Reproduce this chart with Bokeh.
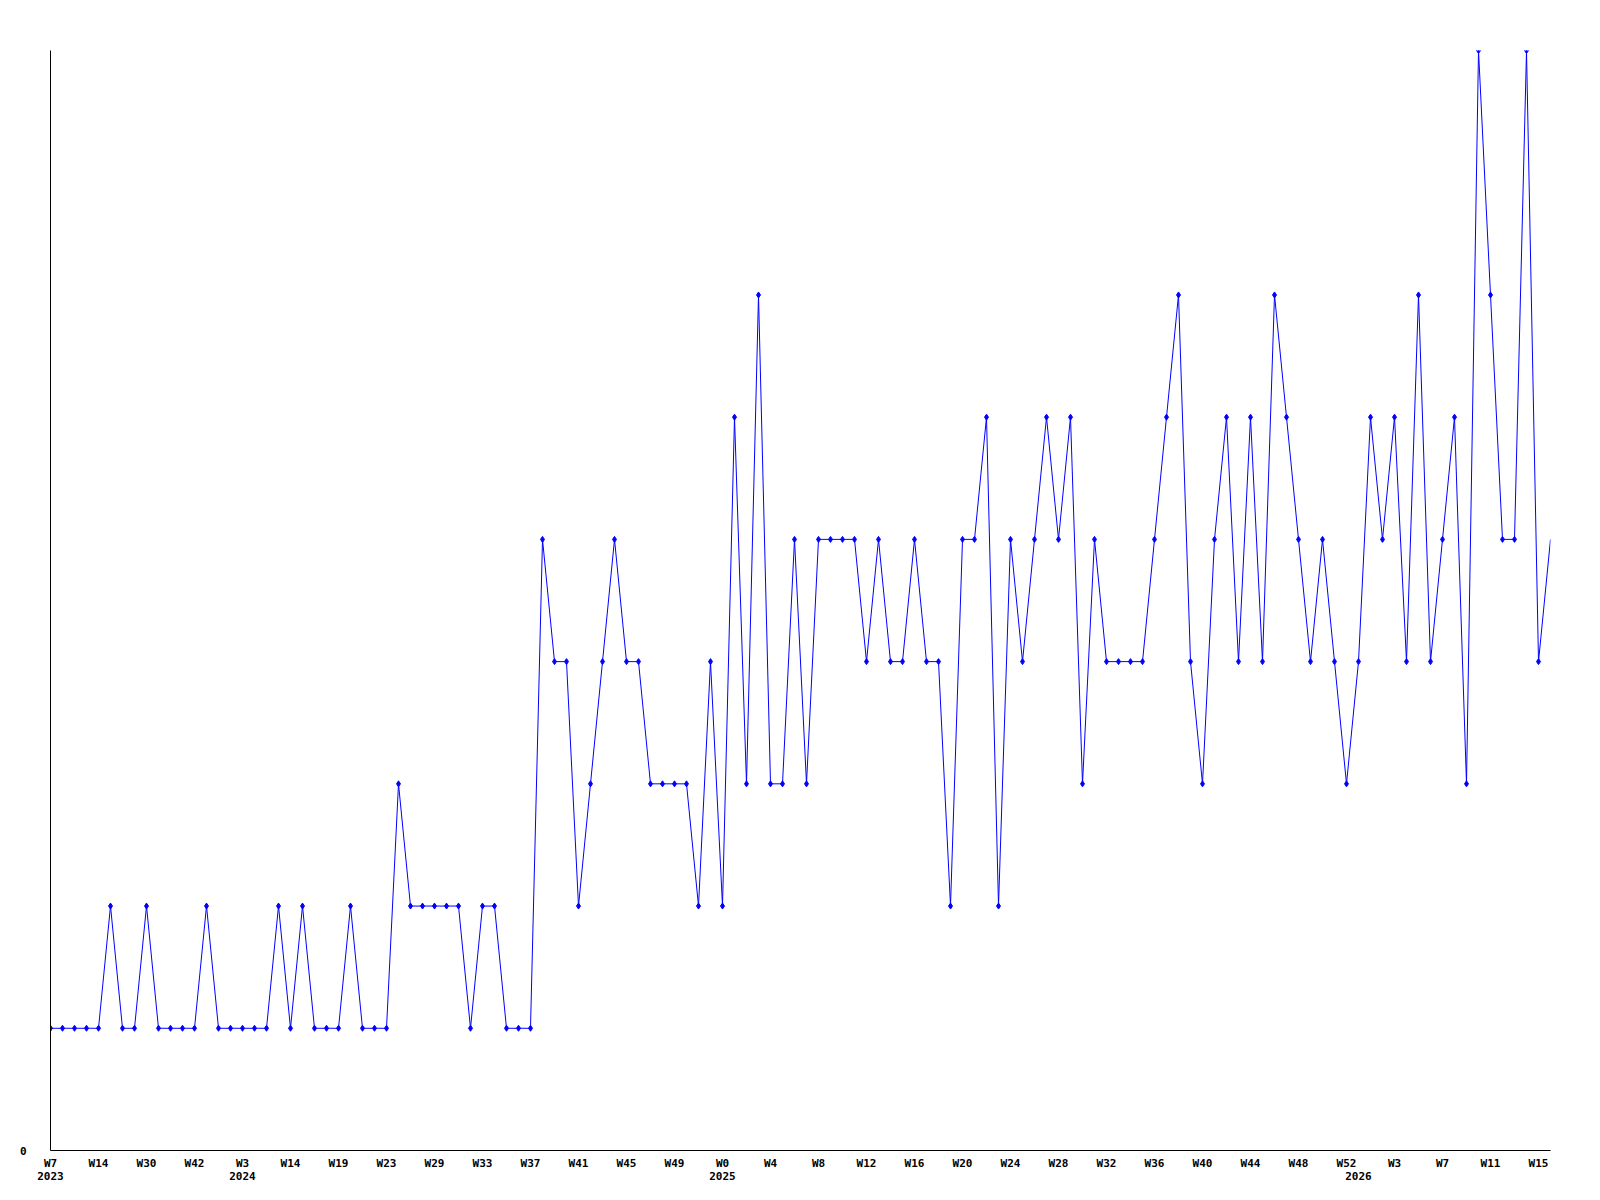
from bokeh.plotting import figure
from bokeh.models import Range1d, FixedTicker, LinearAxis, ColumnDataSource
from bokeh.embed import file_html
from bokeh.resources import INLINE

# ---- data ----
values = [
    1, 1, 1, 1, 1, 2, 1, 1, 2, 1, 1, 1, 1, 2, 1, 1, 1, 1, 1, 2,
    1, 2, 1, 1, 1, 2, 1, 1, 1, 3, 2, 2, 2, 2, 2, 1, 2, 2, 1, 1,
    1, 5, 4, 4, 2, 3, 4, 5, 4, 4, 3, 3, 3, 3, 2, 4, 2, 6, 3, 7,
    3, 3, 5, 3, 5, 5, 5, 5, 4, 5, 4, 4, 5, 4, 4, 2, 5, 5, 6, 2,
    5, 4, 5, 6, 5, 6, 3, 5, 4, 4, 4, 4, 5, 6, 7, 4, 3, 5, 6, 4,
    6, 4, 7, 6, 5, 4, 5, 4, 3, 4, 6, 5, 6, 4, 7, 4, 5, 6, 3, 9,
    7, 5, 5, 9, 4, 5,
]
week_labels = [
    "W7", "W14", "W30", "W42", "W3", "W14", "W19", "W23", "W29", "W33",
    "W37", "W41", "W45", "W49", "W0", "W4", "W8", "W12", "W16", "W20",
    "W24", "W28", "W32", "W36", "W40", "W44", "W48", "W52", "W3", "W7",
    "W11", "W15",
]
label_every = 4
year_labels = ["2023", "2024", "2025", "2026"]
year_label_index = [0, 16, 56, 109]
y_tick_values = [0]
y_tick_labels = ["0"]

idx = list(range(len(values)))
src = ColumnDataSource(dict(x=idx, y=values))
# the last (current) point is drawn without a marker
msrc = ColumnDataSource(dict(x=idx[:-1], y=values[:-1]))

FONT = "DejaVu Sans Mono"
BLUE = "#0000ff"

p = figure(frame_width=1500, frame_height=1100, output_backend="svg", toolbar_location=None,
           x_range=Range1d(0, len(values) - 1), y_range=Range1d(0, 9),
           min_border_left=50, min_border_top=50, min_border_right=42, min_border_bottom=0,
           x_axis_location=None, y_axis_location=None)
p.outline_line_color = None
p.xgrid.visible = False
p.ygrid.visible = False
p.background_fill_color = "white"
p.border_fill_color = "white"

p.line("x", "y", source=src, line_color=BLUE, line_width=1)
p.scatter("x", "y", source=msrc, marker="diamond", size=6, color=BLUE)

tick_pos = [i * label_every for i in range(len(week_labels))]

xa = LinearAxis(ticker=FixedTicker(ticks=tick_pos))
xa.major_label_overrides = {t: lab for t, lab in zip(tick_pos, week_labels)}
xa.major_tick_line_color = None
xa.minor_tick_line_color = None
xa.axis_line_color = "black"
xa.axis_line_width = 1
xa.major_label_text_font = FONT
xa.major_label_text_font_style = "bold"
xa.major_label_text_font_size = "11px"
xa.major_label_text_color = "black"
xa.major_label_standoff = 0
p.add_layout(xa, "below")

ya2 = LinearAxis(ticker=FixedTicker(ticks=year_label_index))
ya2.major_label_overrides = {t: lab for t, lab in zip(year_label_index, year_labels)}
ya2.major_tick_line_color = None
ya2.minor_tick_line_color = None
ya2.axis_line_color = None
ya2.major_label_text_font = FONT
ya2.major_label_text_font_style = "bold"
ya2.major_label_text_font_size = "11px"
ya2.major_label_text_color = "black"
ya2.major_label_standoff = -7
p.add_layout(ya2, "below")

ya = LinearAxis(ticker=FixedTicker(ticks=y_tick_values))
ya.major_label_overrides = {t: lab for t, lab in zip(y_tick_values, y_tick_labels)}
ya.major_tick_line_color = None
ya.minor_tick_line_color = None
ya.axis_line_color = "black"
ya.axis_line_width = 1
ya.major_label_text_font = FONT
ya.major_label_text_font_style = "bold"
ya.major_label_text_font_size = "11px"
ya.major_label_text_color = "black"
ya.major_label_standoff = 18
p.add_layout(ya, "left")

open("out.html", "w").write(file_html(p, INLINE))
